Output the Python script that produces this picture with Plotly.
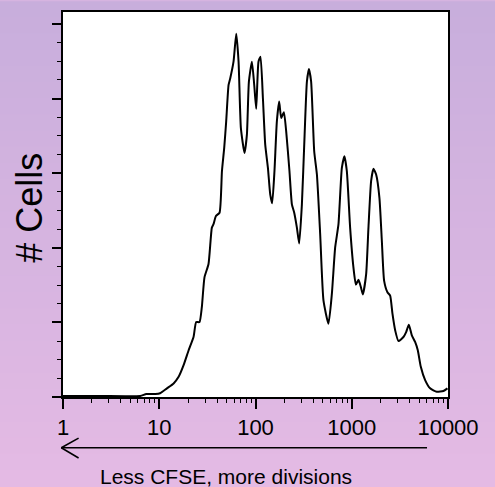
import plotly.graph_objects as go

# CFSE fluorescence (log scale) and cell counts
cfse = [1, 2.44, 6.35, 7.33, 9.08, 10.2, 12.0, 14.1, 15.9, 17.9, 20.2, 22.7, 24.2, 26.2,
        27.7, 29.5, 32.5, 35.2, 36.6, 38.8, 42.3, 44.8, 47.3, 49.6, 52.5, 54.6, 59.1,
        63.1, 66.7, 70.5, 76.9, 81.4, 85.4, 91.8, 97.0, 101.7, 107.4, 112.7, 119.4,
        126.2, 134.6, 142.2, 149.0, 157.4, 166.7, 176.2, 184.9, 197.2, 208.4, 225.4,
        238.8, 252.5, 269.2, 284.4, 303.4, 322.8, 342.0, 358.9, 378.4, 407.4, 434.5,
        469.9, 508.4, 572.8, 621.3, 672.4, 727.8, 789.1, 839.5, 889.2, 962.0, 1041,
        1104, 1175, 1245, 1304, 1412, 1491, 1589, 1680, 1792, 1939, 2054, 2168, 2349,
        2506, 2648, 2825, 3055, 3443, 3673, 3920, 4209, 4553, 4856, 5218, 5786, 6517,
        7648, 8958, 9863]
cells = [0.7, 0.7, 0.7, 2.0, 2.0, 2.5, 5.8, 9.1, 13.5, 21.3, 31.3, 40.2, 50.2, 50.2,
         60.2, 80.2, 89.1, 113.5, 115.8, 121.3, 123.5, 151.3, 166.9, 184.7, 209.1,
         213.5, 224.7, 243.5, 224.7, 180.2, 163.5, 175.8, 211.3, 224.7, 209.1, 193.1,
         224.7, 228.0, 200.2, 169.1, 153.5, 135.8, 129.8, 151.3, 184.7, 198.0, 186.9,
         190.9, 178.0, 151.3, 129.1, 123.5, 113.5, 102.9, 129.1, 173.5, 211.3, 219.8,
         211.3, 164.7, 149.1, 109.1, 64.7, 49.1, 69.1, 100.2, 115.8, 153.5, 161.3,
         151.3, 113.5, 86.9, 75.3, 78.5, 73.5, 68.7, 82.5, 113.5, 144.7, 152.9, 149.1,
         133.5, 104.7, 78.0, 70.2, 68.0, 55.8, 44.7, 37.5, 40.2, 43.5, 48.5, 41.3,
         36.9, 31.3, 20.2, 11.3, 5.8, 3.5, 4.0, 5.8]

x_tickvals = [1, 10, 100, 1000, 10000]
x_ticktext = ["1", "10", "100", "1000", "10000"]
x_minor = [m * 10 ** k for k in range(4) for m in range(2, 10)]
y_tickvals = [0, 50, 100, 150, 200, 250]

fig = go.Figure()
fig.add_trace(go.Scatter(x=cfse, y=cells, mode="lines",
                         line=dict(color="black", width=2, shape="spline", smoothing=0.5),
                         hoverinfo="skip", showlegend=False))

# background gradient (outside plot area) + white plot area
shapes = []
n = 30
top = (200, 174, 220)
bot = (228, 186, 228)
y_top, y_bot = 1.0258, -0.2326
for i in range(n):
    t = i / (n - 1)
    c = tuple(round(top[j] + (bot[j] - top[j]) * t) for j in range(3))
    y1 = y_top - (y_top - y_bot) * i / n
    y0 = y_top - (y_top - y_bot) * (i + 1) / n
    shapes.append(dict(type="rect", xref="paper", yref="paper", x0=-0.17, x1=1.13,
                       y0=y0 - 0.002, y1=y1 + 0.002, line=dict(width=0),
                       fillcolor="rgb(%d,%d,%d)" % c, layer="below"))
shapes.append(dict(type="rect", xref="paper", yref="paper", x0=0, x1=1, y0=0, y1=1,
                   line=dict(width=0), fillcolor="white", layer="below"))
# arrow under the x axis
arrow = dict(color="black", width=1.6)
shapes += [
    dict(type="line", xref="paper", yref="paper", x0=-0.0044, x1=0.9455, y0=-0.1318, y1=-0.1318, line=arrow),
    dict(type="line", xref="paper", yref="paper", x0=-0.0044, x1=0.0405, y0=-0.1318, y1=-0.1067, line=arrow),
    dict(type="line", xref="paper", yref="paper", x0=-0.0044, x1=0.0405, y0=-0.1318, y1=-0.1584, line=arrow),
]

fig.update_layout(
    width=495, height=487,
    margin=dict(l=63, r=47, t=10, b=90),
    paper_bgcolor="rgb(214,180,224)",
    plot_bgcolor="white",
    font=dict(family="Liberation Sans, Arial, sans-serif", color="black"),
    shapes=shapes,
    annotations=[
        dict(text="# Cells", xref="paper", yref="paper", x=-0.0862, y=0.491,
             textangle=-90, showarrow=False, font=dict(size=36, color="black"),
             xanchor="center", yanchor="middle"),
        dict(text="Less CFSE, more divisions", xref="paper", yref="paper",
             x=0.4222, y=-0.2067, showarrow=False, font=dict(size=21, color="black"),
             xanchor="center", yanchor="middle"),
    ],
)
fig.update_xaxes(type="log", range=[0, 4], showgrid=False, zeroline=False,
                 showline=True, linecolor="black", linewidth=2, mirror=True,
                 ticks="outside", ticklen=10, tickwidth=1.5, tickcolor="black",
                 tickvals=x_tickvals, ticktext=x_ticktext, tickfont=dict(size=22),
                 minor=dict(ticks="outside", ticklen=4, tickwidth=1.2, tickcolor="black",
                            tickvals=x_minor, showgrid=False))
fig.update_yaxes(range=[0, 258], showgrid=False, zeroline=False,
                 showline=True, linecolor="black", linewidth=2, mirror=True,
                 ticks="outside", ticklen=9, tickwidth=1.5, tickcolor="black",
                 tickvals=y_tickvals, showticklabels=False,
                 minor=dict(ticks="outside", ticklen=4, tickwidth=1.2, tickcolor="black",
                            dtick=12.5, tick0=0, showgrid=False))

fig.write_html("out.html", config={"displayModeBar": False},
               post_script="document.body.style.margin='0';document.body.style.overflow='hidden';")
